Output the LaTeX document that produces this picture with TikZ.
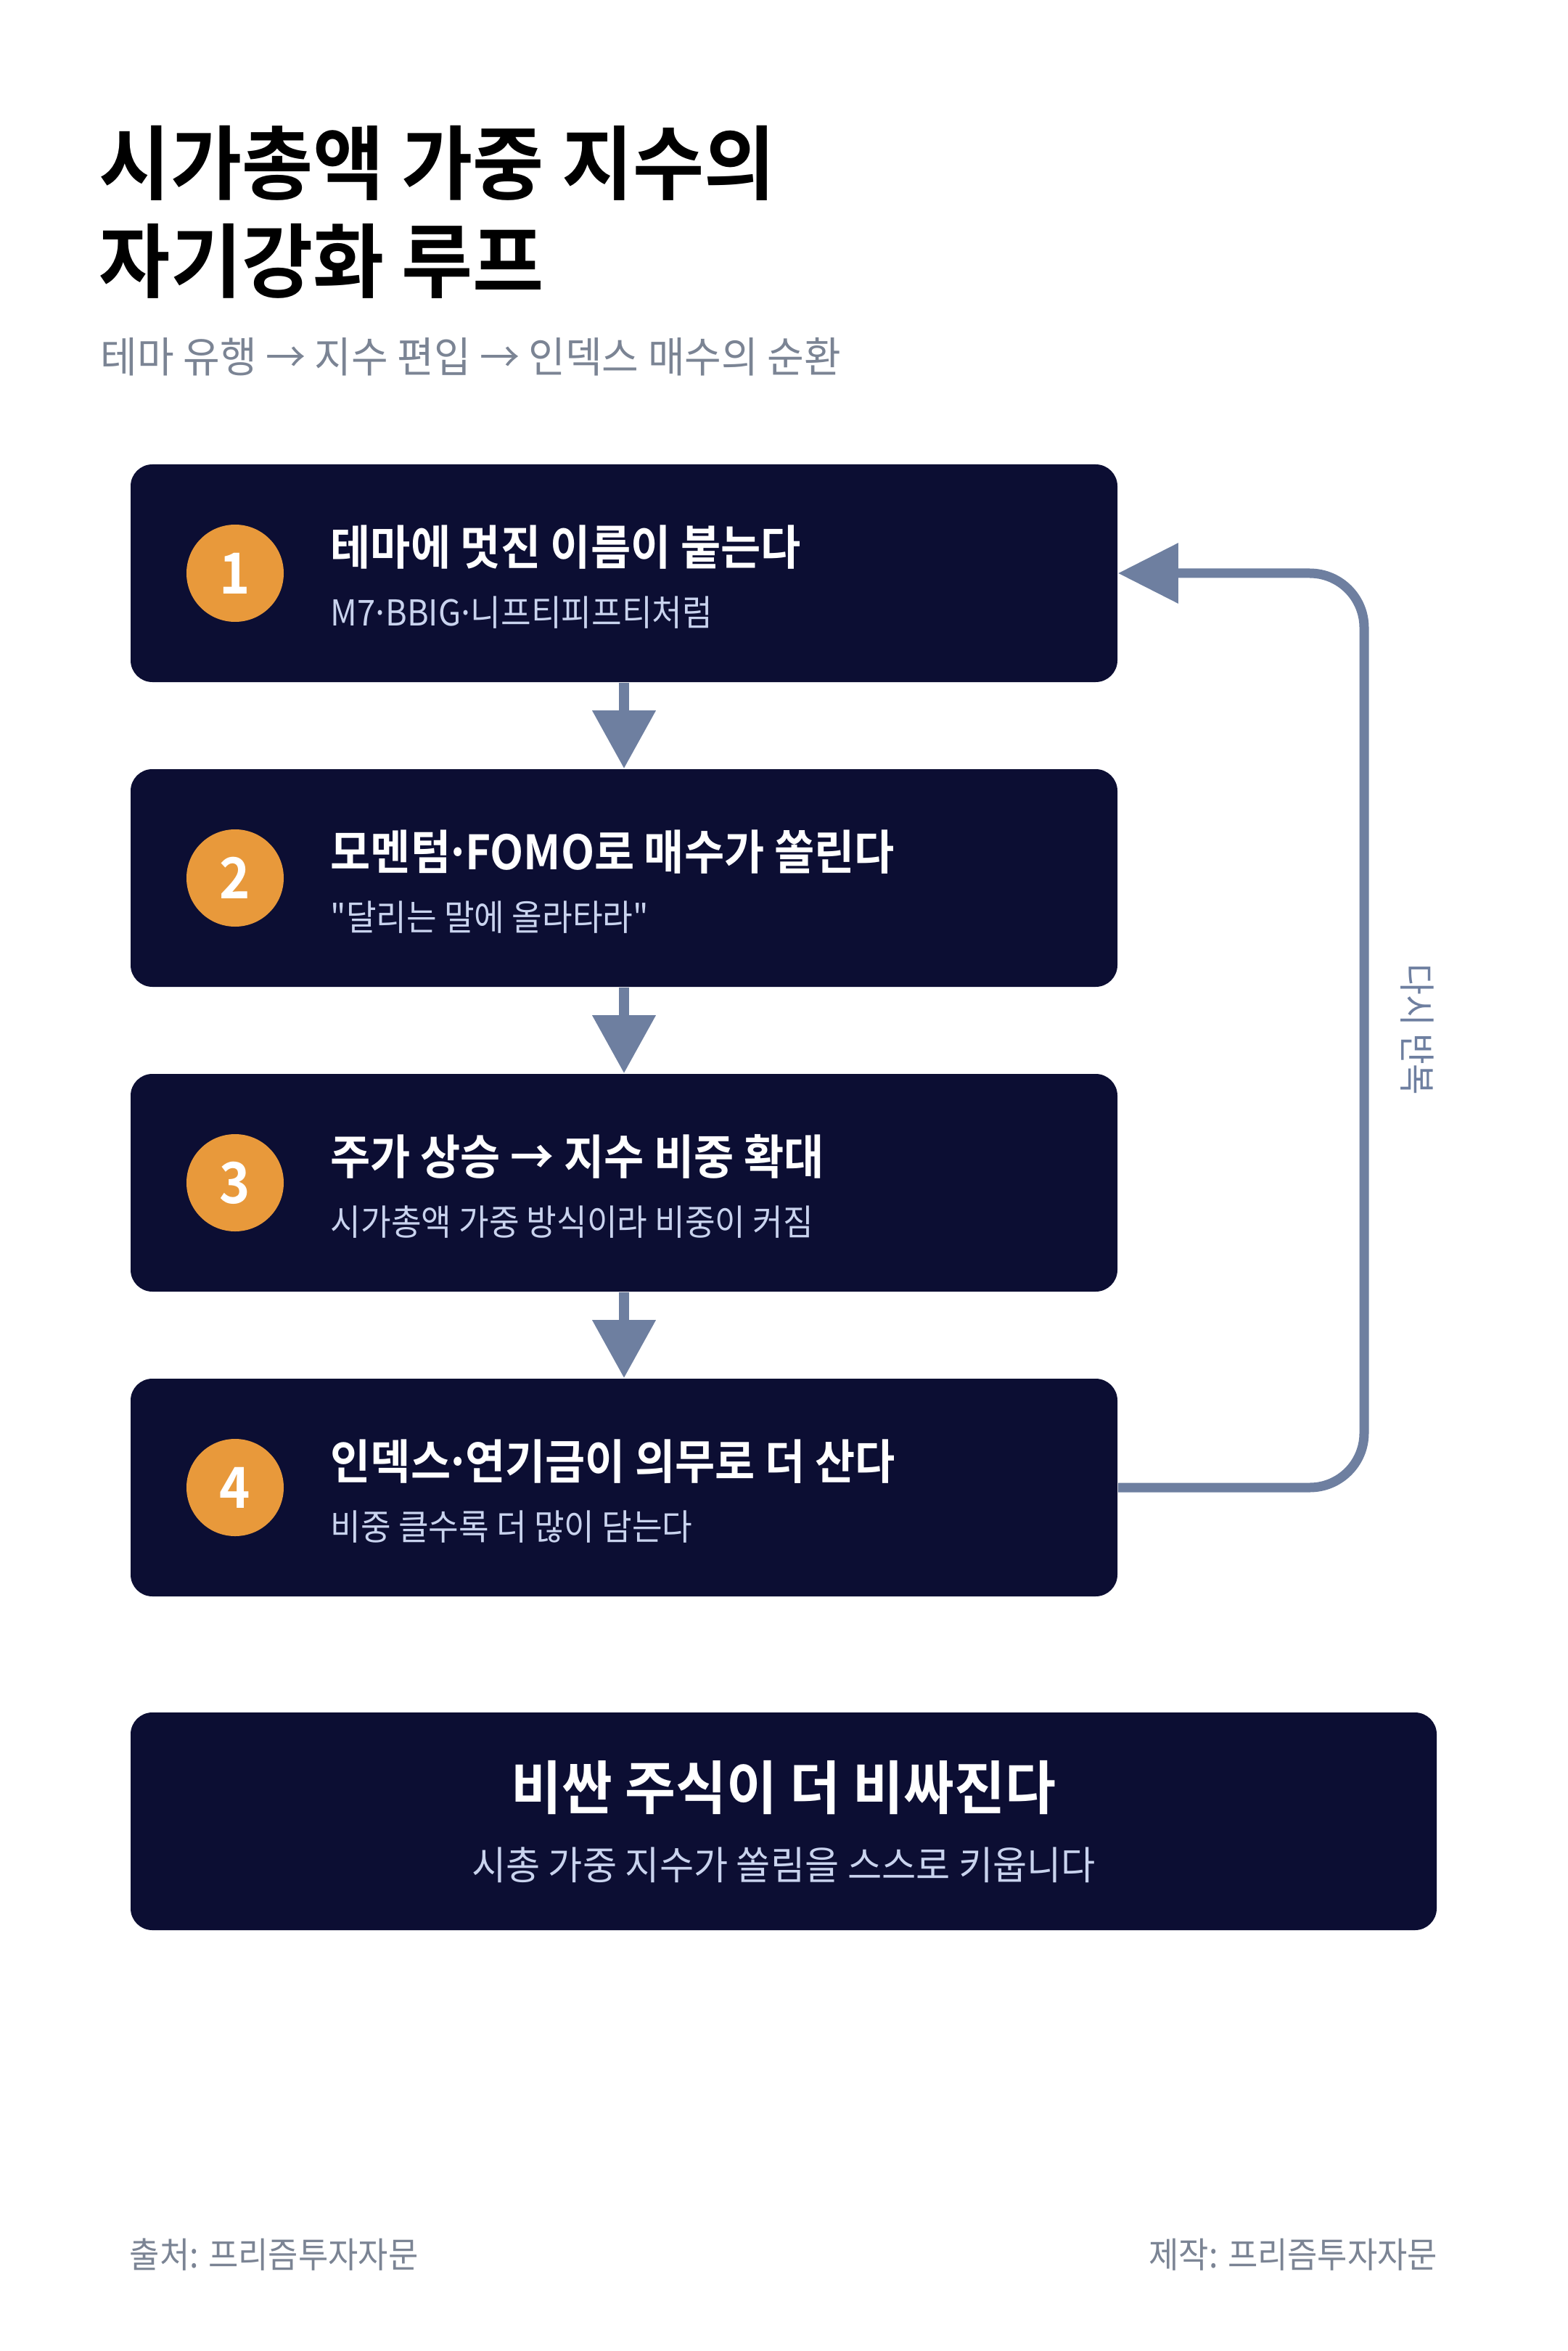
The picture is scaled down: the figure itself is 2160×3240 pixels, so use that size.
\documentclass[tikz,border=0pt]{standalone}
\usepackage{fontspec}
\usetikzlibrary{arrows.meta}
\setmainfont{Noto Sans CJK KR}[BoldFont={Noto Sans CJK KR Bold}]
\newfontfamily\krN{Noto Sans CJK KR}[BoldFont={Noto Sans CJK KR Bold},FakeStretch=0.92]
\newfontfamily\krW{Noto Sans CJK KR}[BoldFont={Noto Sans CJK KR Bold},FakeStretch=0.95]
\newfontfamily\krT{Noto Sans CJK KR}[BoldFont={Noto Sans CJK KR Bold},FakeStretch=0.96]
\newcommand{\md}{\kern-0.12em·\kern-0.12em}
\definecolor{navy}{HTML}{0C0E33}
\definecolor{orangeC}{HTML}{E8993B}
\definecolor{arrowC}{HTML}{6E7FA0}
\definecolor{lightC}{HTML}{C9D3EE}
\definecolor{grayC}{HTML}{7B8494}
\begin{document}
\begin{tikzpicture}[x=0.25pt,y=-0.25pt,
  stepbox/.style={fill=navy, rounded corners=7.5pt, minimum width=340pt, minimum height=75pt, inner sep=0pt},
  bigbox/.style={fill=navy, rounded corners=7.5pt, minimum width=450pt, minimum height=75pt, inner sep=0pt},
  numdot/.style={circle, fill=orangeC, minimum size=33.5pt, inner sep=0pt, text=white, font=\krN\bfseries\fontsize{19.5}{19.5}\selectfont},
  steptitle/.style={anchor=west, inner sep=0pt, text=white, font=\krN\bfseries\fontsize{16.3}{16.3}\selectfont},
  stepsub/.style={anchor=west, inner sep=0pt, text=lightC, font=\krN\fontsize{12.3}{12.3}\selectfont},
  flow/.style={draw=arrowC, line width=3.5pt, -{Triangle[length=20pt,width=21pt]}},
  loopline/.style={draw=arrowC, line width=3.25pt, rounded corners=18.75pt, -{Triangle[length=20.75pt,width=20pt]}},
  foot/.style={inner sep=0pt, text=grayC, font=\krN\fontsize{12.2}{12.2}\selectfont},
]
\useasboundingbox (0,0) rectangle (2160,3240);
\fill[white] (0,0) rectangle (2160,3240);

% title
\node[anchor=west, inner sep=0pt, font=\krT\bfseries\fontsize{27.8}{27.8}\selectfont] (t1) at (136,225) {시가총액 가중 지수의};
\node[anchor=west, inner sep=0pt, font=\krT\bfseries\fontsize{27.8}{27.8}\selectfont] (t2) at (136,360) {자기강화 루프};
\node[anchor=west, inner sep=0pt, text=grayC, font=\krW\fontsize{14.5}{14.5}\selectfont] (st) at (138,492) {테마 유행 → 지수 편입 → 인덱스 매수의 순환};

% boxes
\node[stepbox] (b1) at (860,790) {};
\node[stepbox] (b2) at (860,1210) {};
\node[stepbox] (b3) at (860,1630) {};
\node[stepbox] (b4) at (860,2050) {};
\node[bigbox] (b5) at (1080,2510) {};

% numbers
\node[numdot] (n1) at (324,790) {1};
\node[numdot] (n2) at (324,1210) {2};
\node[numdot] (n3) at (324,1630) {3};
\node[numdot] (n4) at (324,2050) {4};

% texts
\node[steptitle] (h1) at (455,754) {테마에 멋진 이름이 붙는다};
\node[stepsub] (s1) at (455,844) {M7\md BBIG\md 니프티피프티처럼};
\node[steptitle] (h2) at (455,1174) {모멘텀\md FOMO로 매수가 쏠린다};
\node[stepsub] (s2) at (455,1264) {"달리는 말에 올라타라"};
\node[steptitle] (h3) at (455,1594) {주가 상승 → 지수 비중 확대};
\node[stepsub] (s3) at (455,1684) {시가총액 가중 방식이라 비중이 커짐};
\node[steptitle] (h4) at (455,2014) {인덱스\md 연기금이 의무로 더 산다};
\node[stepsub] (s4) at (455,2104) {비중 클수록 더 많이 담는다};

\node[inner sep=0pt, text=white, font=\krW\bfseries\fontsize{20}{20}\selectfont] (h5) at (1080,2464) {비싼 주식이 더 비싸진다};
\node[inner sep=0pt, text=lightC, font=\krW\fontsize{13.5}{13.5}\selectfont] (s5) at (1080,2570) {시총 가중 지수가 쏠림을 스스로 키웁니다};

% connectors
\draw[flow] (b1.south) -- (b2.north);
\draw[flow] (b2.south) -- (b3.north);
\draw[flow] (b3.south) -- (b4.north);
\coordinate (lr) at (1880,1400);
\draw[loopline] (b4.east) -- (b4.east -| lr) -- (b1.east -| lr) -- (b1.east);
\node[rotate=-90, inner sep=0pt, text=arrowC, font=\krN\fontsize{12.6}{12.6}\selectfont] (lbl) at (1953,1419) {다시 반복};

% footer
\node[foot, anchor=west] (f1) at (178,3107) {출처: 프리즘투자자문};
\node[foot, anchor=east] (f2) at (1982,3107) {제작: 프리즘투자자문};
\end{tikzpicture}
\end{document}
